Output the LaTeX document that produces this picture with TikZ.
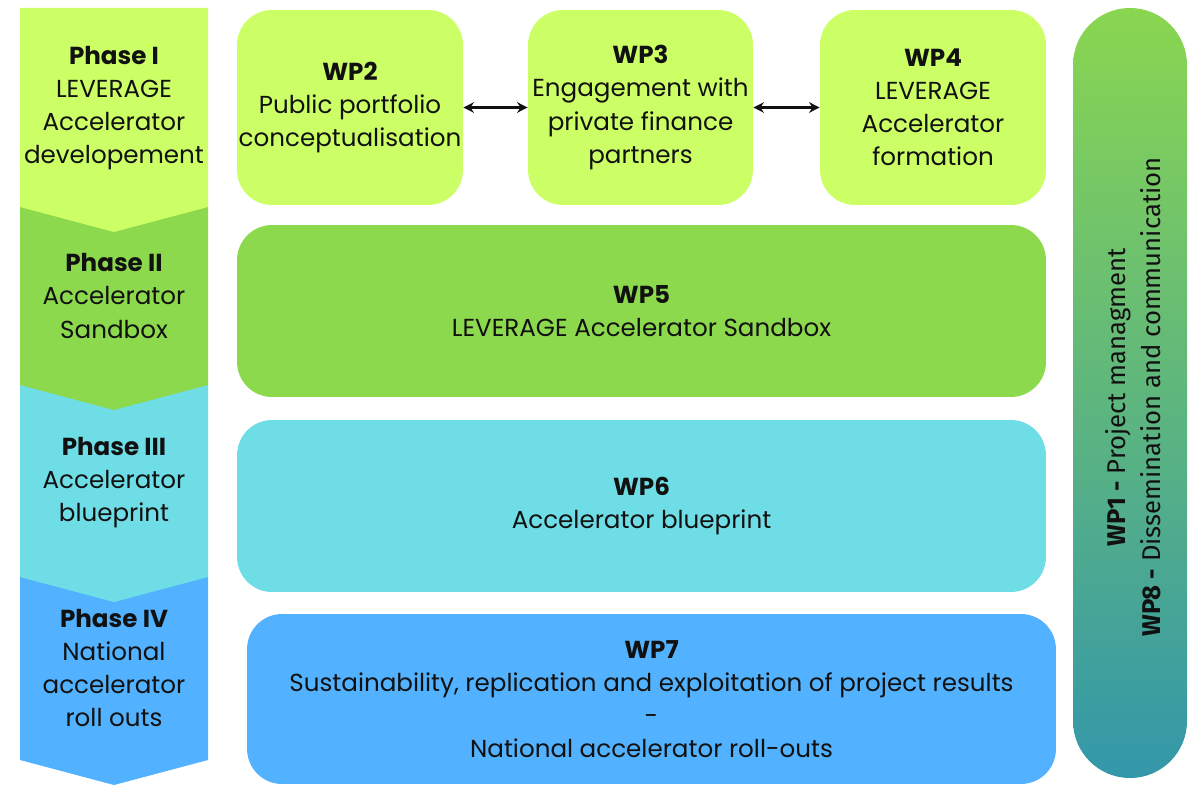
\documentclass[tikz,border=0pt]{standalone}
\usepackage{fontspec}
\setmainfont{Poppins}
\newfontfamily\barfont{Fira Sans}
\usetikzlibrary{arrows.meta,positioning}

\definecolor{phaseone}{HTML}{CCFF66}
\definecolor{phasetwo}{HTML}{8CD94E}
\definecolor{phasethree}{HTML}{6EDDE6}
\definecolor{phasefour}{HTML}{52B2FF}
\definecolor{bartop}{HTML}{8AD650}
\definecolor{barbottom}{HTML}{3397AA}
\definecolor{ink}{HTML}{111111}

\begin{document}
\begin{tikzpicture}[x=0.02cm, y=-0.02cm,
    phasetext/.style={text=ink, align=center, font=\fontsize{14}{18.8}\selectfont},
    wpbox/.style={rounded corners=0.7cm, inner sep=0pt, text=ink, align=center,
      font=\fontsize{14}{18.8}\selectfont},
    link/.style={{Stealth[length=6pt,width=6pt]}-{Stealth[length=6pt,width=6pt]}, line width=1.4pt, ink}]
  % Definitions
  \pgfmathsetmacro{\xl}{20}
  \pgfmathsetmacro{\xr}{208}
  \pgfmathsetmacro{\xm}{114}
  \pgfmathsetmacro{\d}{25}
  \useasboundingbox (0,0) rectangle (1189,784);

  % Phase chevrons (bottom first, so each point lies over the next one)
  \fill[phasefour] (\xl,577) -- (\xr,577) -- (\xr,760) -- (\xm,760+\d) -- (\xl,760) -- cycle;
  \fill[phasethree] (\xl,385) -- (\xr,385) -- (\xr,577) -- (\xm,577+\d) -- (\xl,577) -- cycle;
  \fill[phasetwo] (\xl,207) -- (\xr,207) -- (\xr,385) -- (\xm,385+\d) -- (\xl,385) -- cycle;
  \fill[phaseone] (\xl,8) -- (\xr,8) -- (\xr,207) -- (\xm,207+\d) -- (\xl,207) -- cycle;

  \node[phasetext] (ph1) at (\xm,108) {\textbf{Phase I}\\LEVERAGE\\Accelerator\\developement};
  \node[phasetext] (ph2) at (\xm,296) {\textbf{Phase II}\\Accelerator\\Sandbox};
  \node[phasetext] (ph3) at (\xm,483) {\textbf{Phase III}\\Accelerator\\blueprint};
  \node[phasetext] (ph4) at (\xm,668) {\textbf{Phase IV}\\National\\accelerator\\roll outs};

  % Work packages
  \node[wpbox, fill=phaseone, minimum width=4.52cm, minimum height=3.9cm] (wp2) at (350,107.5)
    {\textbf{WP2}\\Public portfolio\\conceptualisation};
  \node[wpbox, fill=phaseone, minimum width=4.5cm, minimum height=3.9cm] (wp3) at (640.5,107.5)
    {\textbf{WP3}\\Engagement with\\private finance\\partners};
  \node[wpbox, fill=phaseone, minimum width=4.52cm, minimum height=3.9cm] (wp4) at (933,107.5)
    {\textbf{WP4}\\LEVERAGE\\Accelerator\\formation};
  \node[wpbox, fill=phasetwo, minimum width=16.18cm, minimum height=3.44cm] (wp5) at (641.5,311)
    {\textbf{WP5}\\LEVERAGE Accelerator Sandbox};
  \node[wpbox, fill=phasethree, minimum width=16.18cm, minimum height=3.44cm] (wp6) at (641.5,506)
    {\textbf{WP6}\\Accelerator blueprint};
  \node[wpbox, fill=phasefour, minimum width=16.18cm, minimum height=3.4cm] (wp7) at (651.5,699)
    {\textbf{WP7}\\Sustainability, replication and exploitation of project results\\-\\National accelerator roll-outs};

  \draw[link] (wp2) -- (wp3);
  \draw[link] (wp3) -- (wp4);

  % Cross-cutting work packages
  \shade[top color=bartop, bottom color=barbottom, rounded corners=1.14cm] (1073,8) rectangle (1187,778);
  \node[rotate=90, text=ink, align=center, font=\barfont\fontsize{14.6}{19.8}\selectfont] (wp18) at (1133,397)
    {\textbf{WP1 -} Project managment\\\textbf{WP8 -} Dissemination and communication};
\end{tikzpicture}
\end{document}
